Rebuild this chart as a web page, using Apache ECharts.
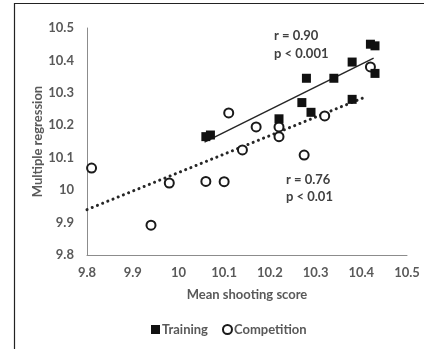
<!DOCTYPE html>
<html>
<head>
<meta charset="utf-8">
<script src="https://cdn.jsdelivr.net/npm/echarts@6/dist/echarts.min.js"></script>
<style>
  html, body { margin: 0; padding: 0; background: #fff; }
  #chart { width: 424px; height: 349px; }
</style>
</head>
<body>
<div id="chart"></div>
<script>
// Mean shooting score (x) vs multiple regression estimate (y)
const trainingX = [10.06, 10.07, 10.22, 10.29, 10.27, 10.28, 10.34, 10.38, 10.42, 10.43, 10.43, 10.38];
const trainingY = [10.165, 10.17, 10.22, 10.24, 10.27, 10.345, 10.345, 10.395, 10.45, 10.445, 10.36, 10.28];

const competitionX = [9.81, 9.98, 9.94, 10.06, 10.10, 10.11, 10.14, 10.17, 10.22, 10.22, 10.275, 10.32, 10.42];
const competitionY = [10.068, 10.022, 9.892, 10.027, 10.026, 10.238, 10.124, 10.195, 10.195, 10.165, 10.108, 10.229, 10.38];

// Fitted regression lines (start and end points)
const trainingFitX = [10.057, 10.427];
const trainingFitY = [10.148, 10.407];
const competitionFitX = [9.8, 10.412];
const competitionFitY = [9.94, 10.289];

const axisTicks = ['9.8', '9.9', '10', '10.1', '10.2', '10.3', '10.4', '10.5'];

const zip = (xs, ys) => xs.map((x, i) => [x, ys[i]]);

const textColor = '#595959';
const fontFamily = 'Lato, "Open Sans", sans-serif';
const fontSize = 13;

const chart = echarts.init(document.getElementById('chart'), null, { renderer: 'canvas' });

chart.setOption({
  animation: false,
  backgroundColor: '#fff',
  grid: { left: 87, right: 17, top: 28, bottom: 94 },
  xAxis: {
    type: 'value',
    min: 9.8, max: 10.5, interval: 0.1,
    name: 'Mean shooting score',
    nameLocation: 'middle',
    nameGap: 33,
    nameMoveOverlap: false,
    nameTextStyle: { color: textColor, fontWeight: 'bold', fontSize, fontFamily },
    axisLine: { show: true, lineStyle: { color: '#8c8c8c', width: 1 } },
    axisTick: { show: false },
    splitLine: { show: false },
    axisLabel: {
      color: textColor, fontWeight: 'bold', fontSize, fontFamily, margin: 11,
      formatter: (v) => axisTicks[Math.round((v - 9.8) * 10)]
    }
  },
  yAxis: {
    type: 'value',
    min: 9.8, max: 10.5, interval: 0.1,
    name: 'Multiple regression',
    nameLocation: 'middle',
    nameRotate: 90,
    nameGap: 43,
    nameMoveOverlap: false,
    nameTextStyle: { color: textColor, fontWeight: 'bold', fontSize, fontFamily },
    axisLine: { show: true, lineStyle: { color: '#8c8c8c', width: 1 } },
    axisTick: { show: false },
    splitLine: { show: false },
    axisLabel: {
      color: textColor, fontWeight: 'bold', fontSize, fontFamily, margin: 13,
      formatter: (v) => axisTicks[Math.round((v - 9.8) * 10)]
    }
  },
  legend: {
    data: ['Training', 'Competition'],
    left: 146,
    top: 318,
    itemWidth: 9,
    itemHeight: 9,
    itemGap: 14,
    textStyle: { color: textColor, fontWeight: 'bold', fontSize, fontFamily, padding: [0, 0, 0, -3] }
  },
  series: [
    {
      name: 'Training fit',
      type: 'line',
      data: zip(trainingFitX, trainingFitY),
      showSymbol: false,
      silent: true,
      lineStyle: { color: '#262626', width: 1.5 },
      z: 1
    },
    {
      name: 'Competition fit',
      type: 'line',
      data: zip(competitionFitX, competitionFitY),
      showSymbol: false,
      silent: true,
      lineStyle: { color: '#262626', width: 3, type: [0.1, 5.5], cap: 'round' },
      z: 1
    },
    {
      name: 'Competition',
      type: 'scatter',
      symbol: 'emptyCircle',
      symbolSize: 9,
      data: zip(competitionX, competitionY),
      itemStyle: { color: '#1a1a1a', borderWidth: 1.6, opacity: 1 },
      z: 3
    },
    {
      name: 'Training',
      type: 'scatter',
      symbol: 'rect',
      symbolSize: 9,
      data: zip(trainingX, trainingY),
      itemStyle: { color: '#111', opacity: 1 },
      z: 4
    }
  ],
  graphic: [
    { type: 'line', shape: { x1: 14.5, y1: 3, x2: 14.5, y2: 349 }, style: { stroke: '#222', lineWidth: 1.2 } },
    { type: 'line', shape: { x1: 14, y1: 3.5, x2: 424, y2: 3.5 }, style: { stroke: '#222', lineWidth: 1.2 } },
    { type: 'text', left: 274, top: 27, style: { text: 'r = 0.90\np < 0.001', fill: '#404040', font: 'bold 13px ' + fontFamily, lineHeight: 18 } },
    { type: 'text', left: 286, top: 171, style: { text: 'r = 0.76\np < 0.01', fill: '#404040', font: 'bold 13px ' + fontFamily, lineHeight: 17 } }
  ]
});
</script>
</body>
</html>
